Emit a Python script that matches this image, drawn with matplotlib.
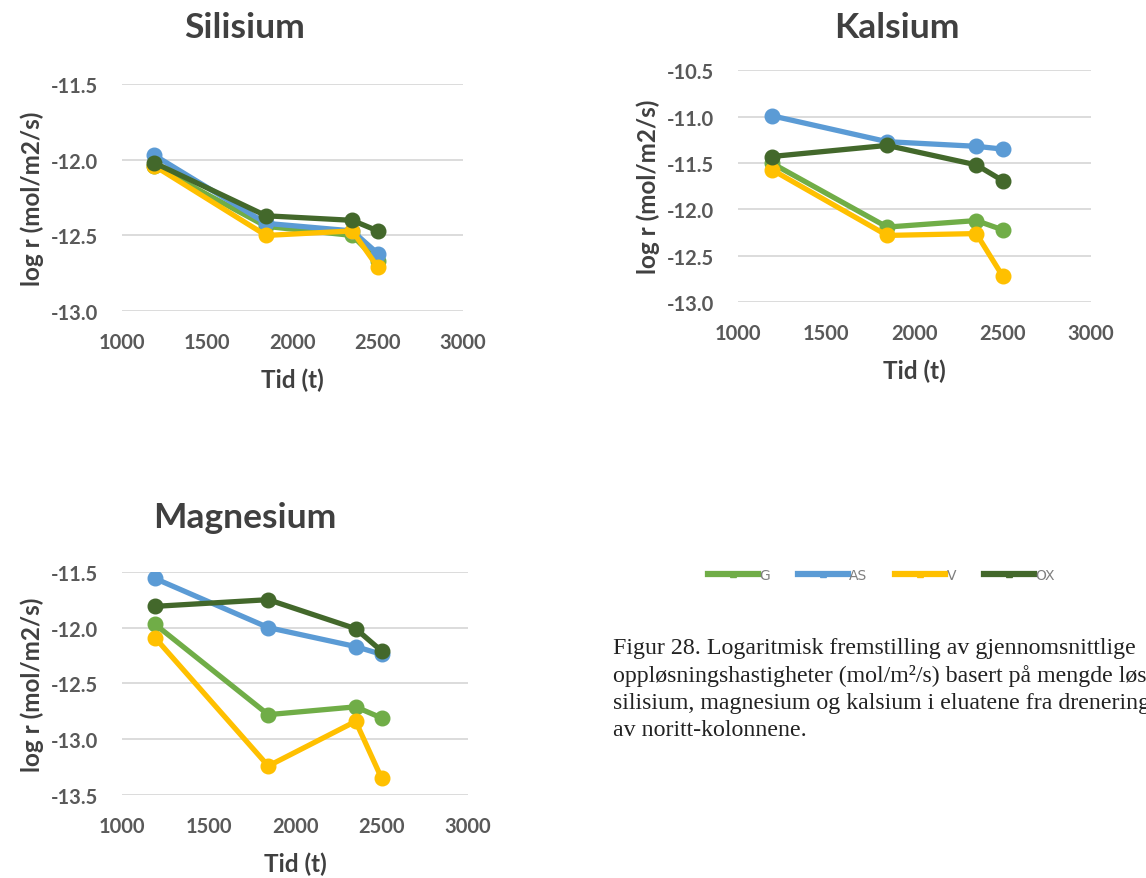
import matplotlib.pyplot as plt
from matplotlib.lines import Line2D

# tid (t) for alle serier
tid = [1190, 1845, 2350, 2500]

series = ["G", "AS", "V", "OX"]
colors = {"G": "#70AD47", "AS": "#5B9BD5", "V": "#FFC000", "OX": "#43682B"}

# log r (mol/m2/s), lest av figuren
si_G = [-12.04, -12.44, -12.50, -12.67]
si_AS = [-11.97, -12.42, -12.47, -12.62]
si_V = [-12.04, -12.50, -12.47, -12.71]
si_OX = [-12.02, -12.37, -12.40, -12.47]

ca_G = [-11.50, -12.19, -12.12, -12.22]
ca_AS = [-10.99, -11.27, -11.32, -11.35]
ca_V = [-11.57, -12.28, -12.26, -12.72]
ca_OX = [-11.43, -11.31, -11.52, -11.69]

mg_G = [-11.97, -12.78, -12.71, -12.81]
mg_AS = [-11.56, -12.00, -12.17, -12.24]
mg_V = [-12.09, -13.24, -12.84, -13.35]
mg_OX = [-11.81, -11.75, -12.01, -12.21]

caption = ("Figur 28. Logaritmisk fremstilling av gjennomsnittlige\n"
           "oppløsningshastigheter (mol/m²/s) basert på mengde løst\n"
           "silisium, magnesium og kalsium i eluatene fra drenering\n"
           "av noritt-kolonnene.")

FONT = ["Lato", "DejaVu Sans"]
GRAY = "#595959"

fig = plt.figure(figsize=(11.46, 8.79), dpi=100)


def panel(rect, title, title_xy, data, ylim, yticks):
    ax = fig.add_axes(rect)
    for s in series:
        ax.plot(tid, data[s], "-o", color=colors[s], lw=3.8, ms=10.5, zorder=3)
    ax.set_xlim(1000, 3000)
    ax.set_ylim(*ylim)
    ax.set_xticks([1000, 1500, 2000, 2500, 3000])
    ax.set_yticks(yticks)
    ax.set_yticklabels([f"{v:.1f}" for v in yticks])
    ax.grid(axis="y", color="#D9D9D9", lw=1.3)
    ax.set_axisbelow(True)
    for sp in ax.spines.values():
        sp.set_visible(False)
    ax.tick_params(length=0, labelsize=14.5, labelcolor=GRAY)
    ax.tick_params(axis="x", pad=15)
    ax.tick_params(axis="y", pad=17)
    for lab in ax.get_xticklabels() + ax.get_yticklabels():
        lab.set_fontweight("bold")
        lab.set_family(FONT)
    ax.set_xlabel("Tid (t)", fontsize=17.5, fontweight="bold", color="#404040",
                  family=FONT, labelpad=11)
    ax.set_ylabel("log r (mol/m2/s)", fontsize=17.5, fontweight="bold",
                  color="#404040", family=FONT, labelpad=5)
    fig.text(title_xy[0] / 1146, 1 - title_xy[1] / 879, title, ha="center",
             va="center", fontsize=25.5, fontweight="bold", color="#404040",
             family=FONT)
    return ax


panel([0.1065, 0.645, 0.2976, 0.258], "Silisium", (245, 28),
      {"G": si_G, "AS": si_AS, "V": si_V, "OX": si_OX},
      (-13.0, -11.5), [-13.0, -12.5, -12.0, -11.5])
panel([0.644, 0.655, 0.308, 0.264], "Kalsium", (897, 28),
      {"G": ca_G, "AS": ca_AS, "V": ca_V, "OX": ca_OX},
      (-13.0, -10.5), [-13.0, -12.5, -12.0, -11.5, -11.0, -10.5])
panel([0.1065, 0.0944, 0.302, 0.254], "Magnesium", (245, 518),
      {"G": mg_G, "AS": mg_AS, "V": mg_V, "OX": mg_OX},
      (-13.5, -11.5), [-13.5, -13.0, -12.5, -12.0, -11.5])

handles = [Line2D([0], [0], color=colors[s], lw=4.5, marker="^", ms=5)
           for s in series]
fig.legend(handles, series, loc="center", bbox_to_anchor=(0.769, 0.345),
           ncol=4, frameon=False, fontsize=10, labelcolor="#7F7F7F",
           handlelength=3.6, handletextpad=0.1, columnspacing=2.0)

fig.text(613 / 1146, 1 - 638 / 879, caption, ha="left", va="top",
         family=["Liberation Serif", "DejaVu Serif"], fontsize=17.2,
         linespacing=1.37, color="#222222")

fig.savefig("out.png", dpi=100)
